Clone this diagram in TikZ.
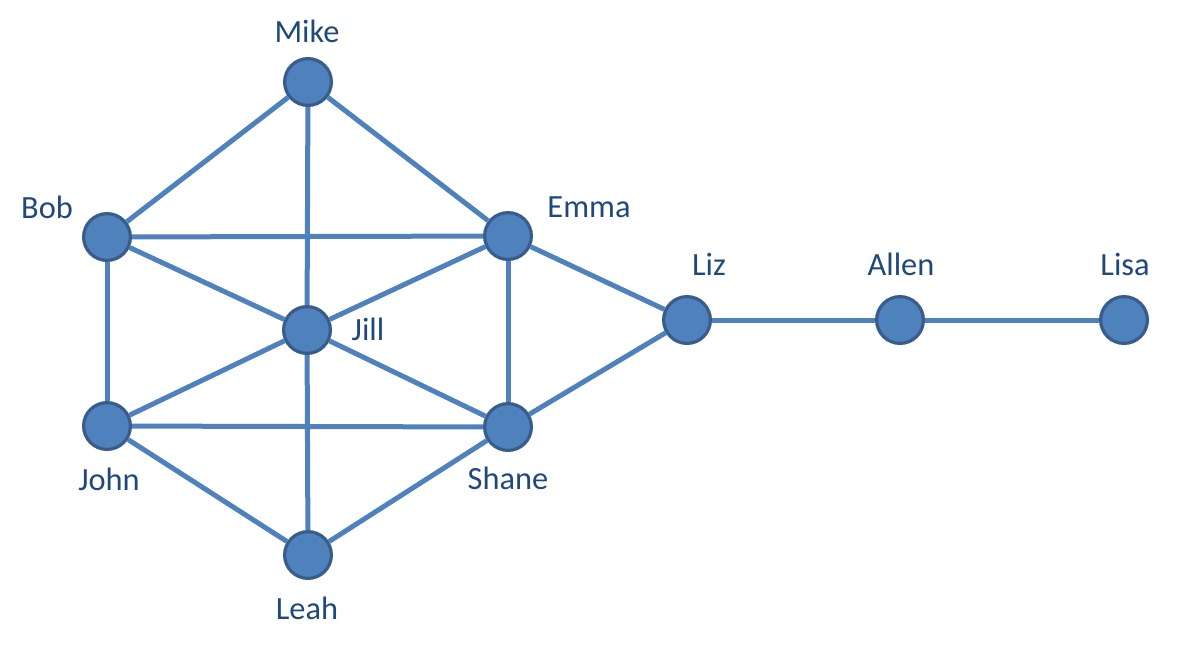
\documentclass[tikz,border=0pt]{standalone}
\usepackage{fontspec}
\setmainfont{Carlito}
\definecolor{nodeblue}{HTML}{4F81BD}
\definecolor{rimblue}{HTML}{385D8A}
\definecolor{textblue}{HTML}{1F497D}

\begin{document}
\begin{tikzpicture}[x=0.5pt, y=-0.5pt,
    person/.style={circle, fill=nodeblue, draw=rimblue, line width=1.6pt, minimum size=23.4pt, inner sep=0pt},
    nametag/.style={anchor=base, text=textblue, font=\fontsize{16.2}{19}\selectfont, inner sep=0pt},
    link/.style={draw=nodeblue, line width=2.5pt}]
    \useasboundingbox (0,0) rectangle (1181,649);
    % people
    \node[person] (mike) at (308,82) {};
    \node[person] (bob) at (107,237) {};
    \node[person] (emma) at (508,236) {};
    \node[person] (jill) at (307,330) {};
    \node[person] (john) at (107,426) {};
    \node[person] (shane) at (508,427) {};
    \node[person] (leah) at (308,555) {};
    \node[person] (liz) at (687,320) {};
    \node[person] (allen) at (900,320) {};
    \node[person] (lisa) at (1124,320) {};
    % names
    \node[nametag] (mikeL) at (307,42) {Mike};
    \node[nametag] (bobL) at (47,218) {Bob};
    \node[nametag] (emmaL) at (589,217) {Emma};
    \node[nametag] (jillL) at (368,340) {Jill};
    \node[nametag] (johnL) at (109,490) {John};
    \node[nametag] (shaneL) at (508,489) {Shane};
    \node[nametag] (leahL) at (307,619) {Leah};
    \node[nametag] (lizL) at (709,275) {Liz};
    \node[nametag] (allenL) at (901,275) {Allen};
    \node[nametag] (lisaL) at (1125,275) {Lisa};
    % links
    \foreach \a/\b in {mike/bob, mike/jill, mike/emma, bob/emma, bob/jill, bob/john,
        emma/jill, emma/shane, emma/liz, jill/john, jill/shane, jill/leah,
        john/shane, john/leah, shane/leah, shane/liz, liz/allen, allen/lisa}
        \draw[link] (\a) -- (\b);
\end{tikzpicture}
\end{document}
